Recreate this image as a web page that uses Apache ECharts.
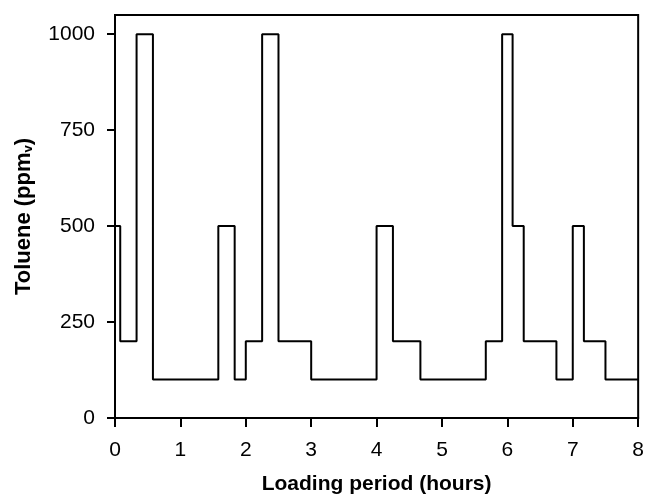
<!DOCTYPE html>
<html>
<head>
<meta charset="utf-8">
<script src="https://cdn.jsdelivr.net/npm/echarts@6/dist/echarts.min.js"></script>
<style>
  html, body { margin: 0; padding: 0; background: #fff; }
  #chart { width: 647px; height: 500px; }
</style>
</head>
<body>
<div id="chart"></div>
<script>
// loading schedule: time (hours) at which each level starts, and the level (ppmv)
const times = [0, 0.08, 0.33, 0.58, 1.58, 1.83, 2, 2.25, 2.5, 3, 4, 4.25, 4.67, 5.67, 5.92, 6.08, 6.25, 6.75, 7, 7.17, 7.5, 8];
const levels = [500, 200, 1000, 100, 500, 100, 200, 1000, 200, 100, 500, 200, 100, 200, 1000, 500, 200, 100, 500, 200, 100, 100];
const yTicks = [0, 250, 500, 750, 1000];

const font = 'Liberation Sans, Arial, sans-serif';
const chart = echarts.init(document.getElementById('chart'), null, { renderer: 'canvas' });

const data = times.map((t, i) => [t, levels[i]]);

chart.setOption({
    animation: false,
    backgroundColor: '#fff',
    grid: {
        left: 115, right: 4, top: 15, bottom: 80,
        show: true, borderColor: '#000', borderWidth: 2
    },
    xAxis: {
        type: 'value',
        min: 0, max: 8, interval: 1,
        name: 'Loading period (hours)',
        nameLocation: 'middle',
        nameGap: 56,
        nameTextStyle: { fontFamily: font, fontSize: 21, fontWeight: 'bold', color: '#000' },
        axisLine: { lineStyle: { color: '#000', width: 2 } },
        axisTick: { inside: false, length: 9, lineStyle: { color: '#000', width: 2 } },
        axisLabel: { fontFamily: font, fontSize: 21, color: '#000', margin: 22 },
        splitLine: { show: false }
    },
    yAxis: {
        type: 'value',
        min: 0, max: 1050, interval: 250,
        name: '{t|Toluene (ppm}{s|v}{t|)}',
        nameLocation: 'middle',
        nameGap: 80,
        nameTextStyle: {
            rich: {
                t: { fontFamily: font, fontSize: 22, fontWeight: 'bold', color: '#000' },
                s: { fontFamily: font, fontSize: 13, fontWeight: 'bold', color: '#000', verticalAlign: 'bottom', padding: [8, 0, 0, 0] }
            }
        },
        axisLine: { lineStyle: { color: '#000', width: 2 } },
        axisTick: { inside: false, length: 8, lineStyle: { color: '#000', width: 2 }, customValues: yTicks },
        axisLabel: {
            fontFamily: font, fontSize: 21, color: '#000', margin: 20,
            customValues: yTicks,
            formatter: (v) => String(v)
        },
        splitLine: { show: false }
    },
    series: [{
        type: 'line',
        step: 'end',
        data: data,
        showSymbol: false,
        lineStyle: { color: '#000', width: 2 }
    }]
});

window.addEventListener('resize', chart.resize);
</script>
</body>
</html>
